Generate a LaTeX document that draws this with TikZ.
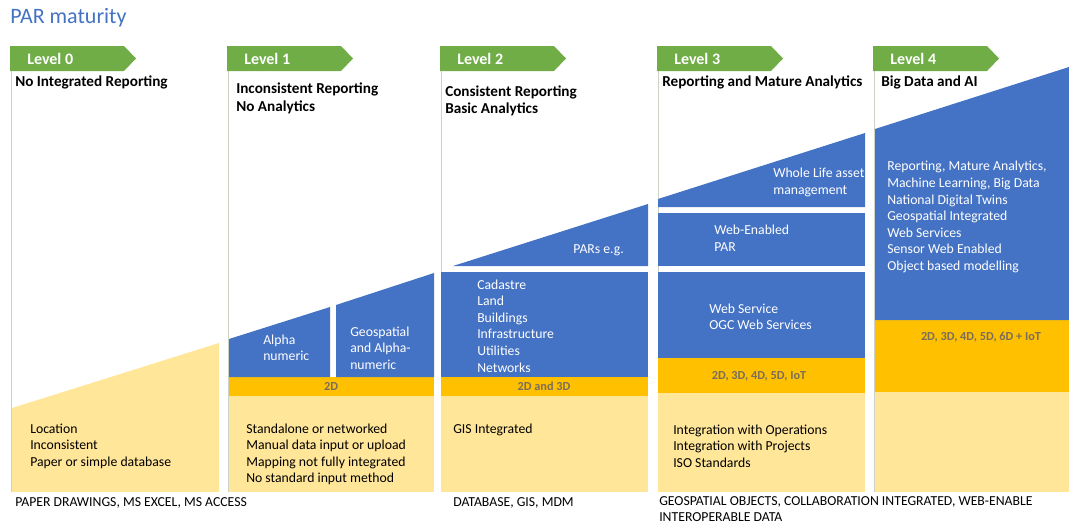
\documentclass[tikz,border=0pt]{standalone}
\usepackage{fontspec}
\setmainfont{Carlito}
\usepackage{xcolor}
\usepackage{tikz}

\definecolor{parblue}{HTML}{4472C4}
\definecolor{parorange}{HTML}{FFC000}
\definecolor{parbeige}{HTML}{FFE699}
\definecolor{pargreen}{HTML}{70AD47}
\definecolor{pargrid}{HTML}{CDD1C6}
\definecolor{dimtext}{RGB}{122,110,90}

\begin{document}
\begin{tikzpicture}[x=0.75pt, y=-0.75pt,
    body/.style={anchor=west, align=left, inner sep=0, font=\fontsize{10.3}{12.4}\selectfont},
    onblue/.style={body, text=white},
    head/.style={anchor=west, align=left, inner sep=0, font=\bfseries\fontsize{11.4}{13.2}\selectfont},
    lvl/.style={anchor=west, inner sep=0, text=white, font=\bfseries\fontsize{12}{14}\selectfont},
    dim/.style={inner sep=0, text=dimtext, font=\bfseries\fontsize{9.2}{11}\selectfont},
    foot/.style={anchor=west, align=left, inner sep=0, font=\fontsize{10.3}{12}\selectfont}]
            \useasboundingbox (0,0) rectangle (1069,525);

            \node[anchor=west, inner sep=0, text=parblue, font=\fontsize{16.5}{19}\selectfont] (title) at (10,18) {PAR maturity};

            % banners and column rules
            \foreach \x/\n in {10/0, 227/1, 440/2, 657/3, 873/4} {
                \fill[pargreen] (\x,46) -- (\x+114,46) -- (\x+126,58.5) -- (\x+114,71) -- (\x,71) -- cycle;
                \node[lvl] (level\n) at (\x+17,58.5) {Level \n};
                \draw[pargrid, line width=0.6pt] (\x+1,71) -- (\x+1,492);
            }

            % beige
            \fill[parbeige] (12,408) -- (219,343) -- (219,492) -- (12,492) -- cycle;
            \fill[parbeige] (229,396) rectangle (434,492);
            \fill[parbeige] (441,396) rectangle (648,492);
            \fill[parbeige] (658,393) rectangle (865,492);
            \fill[parbeige] (875,392) rectangle (1069,492);

            % orange
            \fill[parorange] (229,377) rectangle (434,396);
            \fill[parorange] (441,377) rectangle (648,396);
            \fill[parorange] (658,358) rectangle (865,393);
            \fill[parorange] (875,320) rectangle (1069,392);

            % blue
            \fill[parblue] (229,377) -- (229,339) -- (330,307) -- (330,377) -- cycle;
            \fill[parblue] (336,377) -- (336,305) -- (434,273) -- (434,377) -- cycle;
            \fill[parblue] (453,266) -- (648,204) -- (648,266) -- cycle;
            \fill[parblue] (441,272) rectangle (648,377);
            \fill[parblue] (658,207) -- (658,199) -- (865,133) -- (865,207) -- cycle;
            \fill[parblue] (658,213) rectangle (865,266);
            \fill[parblue] (658,272) rectangle (865,358);
            \fill[parblue] (875,320) -- (875,129) -- (1069,67) -- (1069,320) -- cycle;

            % headings
            \node[head] (head0) at (15,82) {No Integrated Reporting};
            \node[head] (head1) at (236,98.5) {Inconsistent Reporting\\No Analytics};
            \node[head] (head2) at (445,101) {Consistent Reporting\\Basic Analytics};
            \node[head] (head3) at (662,82) {Reporting and Mature Analytics};
            \node[head] (head4) at (881,82) {Big Data and AI};

            % blue texts
            \node[onblue] (alpha) at (263,348) {Alpha\\numeric};
            \node[onblue] (geoalpha) at (350,348) {Geospatial\\and Alpha-\\numeric};
            \node[onblue, anchor=east] (pars) at (624,250) {PARs e.g.};
            \node[onblue] (parlist) at (477,326) {Cadastre\\Land\\Buildings\\Infrastructure\\Utilities\\Networks};
            \node[onblue] (wholelife) at (773,182.5) {Whole Life asset\\management};
            \node[onblue] (webpar) at (714,238) {Web-Enabled\\PAR};
            \node[onblue] (websvc) at (709,317) {Web Service\\OGC Web Services};
            \node[onblue] (bigdata) at (887,217) {Reporting, Mature Analytics,\\Machine Learning, Big Data\\National Digital Twins\\Geospatial Integrated\\Web Services\\Sensor Web Enabled\\Object based modelling};

            % orange texts
            \node[dim] (dims1) at (331,386.5) {2D};
            \node[dim] (dims2) at (544,386.5) {2D and 3D};
            \node[dim] (dims3) at (759,376) {2D, 3D, 4D, 5D, IoT};
            \node[dim] (dims4) at (981,337) {2D, 3D, 4D, 5D, 6D + IoT};

            % beige texts
            \node[body] (body0) at (30,446) {Location\\Inconsistent\\Paper or simple database};
            \node[body] (body1) at (246,454.5) {Standalone or networked\\Manual data input or upload\\Mapping not fully integrated\\No standard input method};
            \node[body] (body2) at (453,430) {GIS Integrated};
            \node[body] (body3) at (673,446) {Integration with Operations\\Integration with Projects\\ISO Standards};

            % tools
            \node[foot] (foot0) at (15,503) {PAPER DRAWINGS, MS EXCEL, MS ACCESS};
            \node[foot] (foot2) at (453,503) {DATABASE, GIS, MDM};
            \node[foot] (foot3) at (659,509) {GEOSPATIAL OBJECTS, COLLABORATION INTEGRATED, WEB-ENABLE\\INTEROPERABLE DATA};
        \end{tikzpicture}
\end{document}
